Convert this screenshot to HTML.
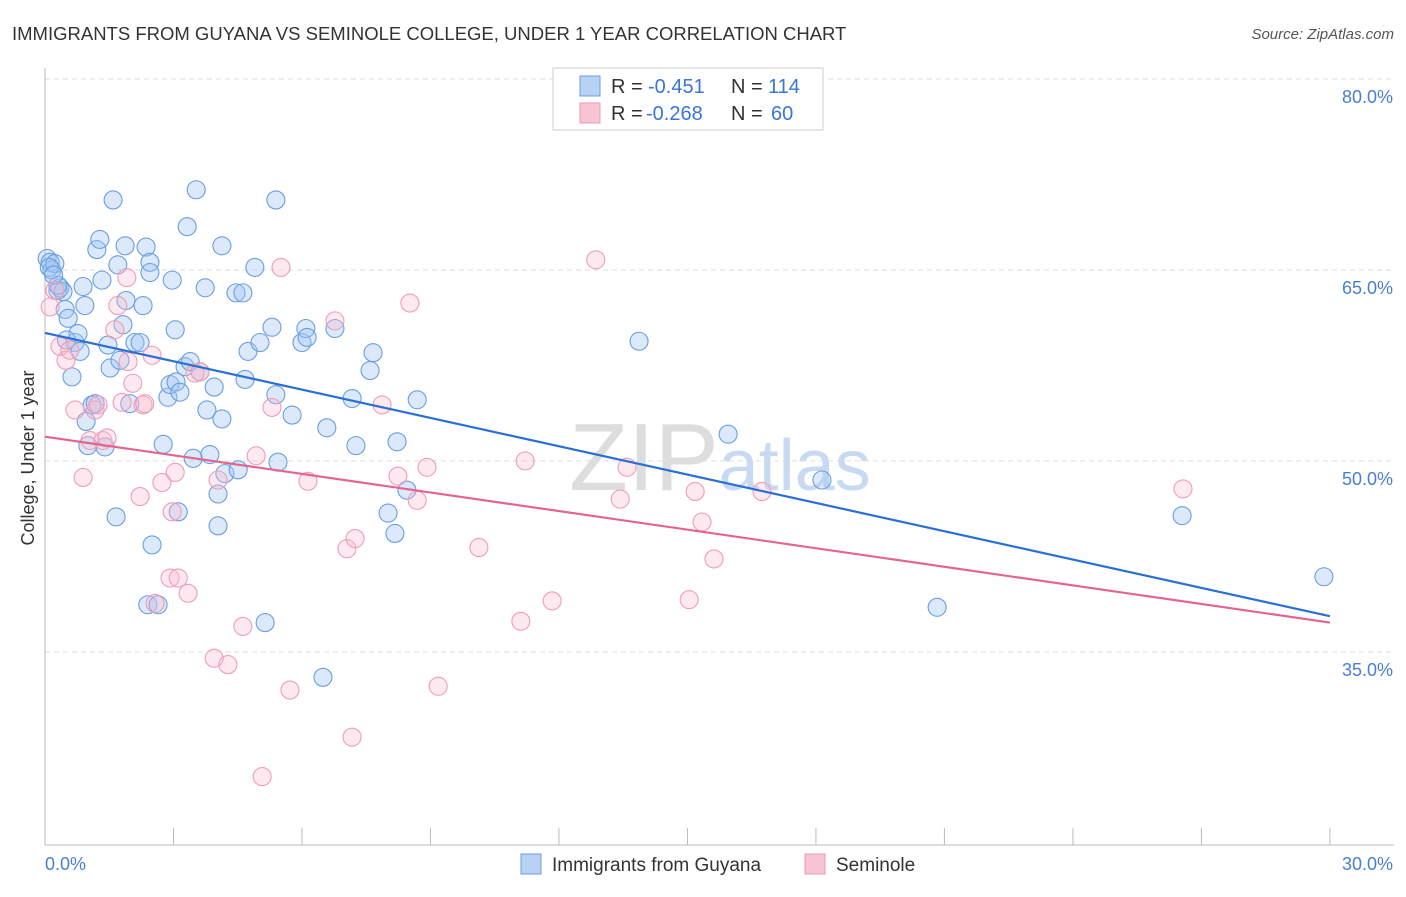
<!DOCTYPE html>
<html><head><meta charset="utf-8"><style>
body{margin:0;background:#fff;font-family:"Liberation Sans",sans-serif}
svg text{font-family:"Liberation Sans",sans-serif}
</style></head><body>
<svg id="c" width="1406" height="892">
<text x="12" y="40" font-size="18.5" fill="#333">IMMIGRANTS FROM GUYANA VS SEMINOLE COLLEGE, UNDER 1 YEAR CORRELATION CHART</text>
<text x="1394" y="39" font-size="15" fill="#555" text-anchor="end" font-style="italic">Source: ZipAtlas.com</text>
<text x="720" y="490" font-size="96" fill="#ddd" text-anchor="middle" font-family="Liberation Serif">ZIP<tspan fill="#c8daf2" font-family="Liberation Sans" font-size="72">atlas</tspan></text>
<g id="grid"></g><g id="axes"></g><g id="pts"></g><g id="lines"></g>
<text transform="translate(34,458) rotate(-90)" font-size="18" fill="#333" text-anchor="middle">College, Under 1 year</text>
<g>
<rect x="553" y="68" width="270" height="62" fill="#fff" stroke="#ccc"/>
<rect x="580" y="76" width="20" height="20" fill="#b8d2f4" stroke="#6d9fe0"/>
<rect x="580" y="103" width="20" height="20" fill="#f9c4d3" stroke="#ec98b2"/>
<text x="611" y="93" font-size="20" fill="#333">R =</text>
<text x="648" y="93" font-size="20" fill="#3a75d6">-0.451</text>
<text x="731" y="93" font-size="20" fill="#333">N =</text>
<text x="768" y="93" font-size="20" fill="#3a75d6">114</text>
<text x="611" y="120" font-size="20" fill="#333">R =</text>
<text x="646" y="120" font-size="20" fill="#3a75d6">-0.268</text>
<text x="731" y="120" font-size="20" fill="#333">N =</text>
<text x="771" y="120" font-size="20" fill="#3a75d6">60</text>
</g>
<g>
<rect x="521" y="854" width="20" height="20" fill="#b8d2f4" stroke="#6d9fe0"/>
<text x="552" y="871" font-size="19" fill="#333">Immigrants from Guyana</text>
<rect x="805" y="854" width="20" height="20" fill="#f9c4d3" stroke="#ec98b2"/>
<text x="836" y="871" font-size="19" fill="#333">Seminole</text>
</g>
</svg>
<script>
const yTicks=[80,65,50,35];
const yTickLabels=["80.0%","65.0%","50.0%","35.0%"];
const xTickLabels=["0.0%","30.0%"];
const blueX=[.05,.12,.16,.23,.30,.35,.42,.47,.54,.63,.70,.77,.82,.89,.93,.96,1.00,1.10,1.17,1.21,1.28,1.33,1.40,1.47,1.52,1.59,1.66,1.70,1.75,1.82,1.89,1.87,1.98,2.10,2.22,2.29,2.36,2.40,2.45,2.45,2.50,2.64,2.76,2.87,2.92,2.97,3.04,3.11,3.06,3.15,3.27,3.32,3.39,3.46,3.53,3.62,3.74,3.78,3.85,3.95,4.04,4.13,4.04,4.13,4.20,4.51,4.46,4.62,4.67,4.74,4.90,5.02,5.14,5.30,5.39,5.39,5.44,5.77,6.00,6.09,6.12,6.49,6.58,6.77,7.17,7.26,7.59,7.66,8.01,8.17,8.22,8.45,8.69,13.87,15.95,18.14,20.83,26.55,29.86,.1,.3,.5,.2];
const blueY=[65.9,65.6,65.0,65.5,63.4,63.6,63.3,61.9,61.2,56.6,59.3,60.0,58.6,63.7,62.2,53.1,51.2,54.4,54.5,66.6,67.4,64.2,51.1,59.1,57.3,70.5,45.6,65.4,57.9,60.7,62.6,66.9,54.5,59.3,59.3,62.2,66.8,38.7,65.6,64.8,43.4,38.7,51.3,55.0,56.0,64.2,60.3,46.0,56.2,55.4,57.4,68.4,57.8,50.2,71.3,57.0,63.6,54.0,50.5,55.8,47.4,53.3,44.9,66.9,49.0,49.3,63.2,63.2,56.4,58.6,65.2,59.3,37.3,60.5,70.5,55.2,49.9,53.6,59.3,60.4,59.7,33.0,52.6,60.4,54.9,51.2,57.1,58.5,45.9,44.3,51.5,47.7,54.8,59.4,52.1,48.5,38.5,45.7,40.9,65.2,63.8,59.5,64.6];
const pinkX=[.12,.23,.35,.49,.58,.70,.89,1.05,1.17,1.24,1.35,1.45,1.63,1.70,1.80,1.91,1.94,2.05,2.22,2.29,2.33,2.50,2.57,2.73,2.92,2.97,3.04,3.11,3.34,3.50,3.62,3.95,4.04,4.27,4.62,4.93,5.07,5.30,5.51,5.72,6.14,6.77,7.05,7.17,7.24,7.87,8.24,8.52,8.69,8.92,9.18,10.13,11.11,11.21,11.84,12.86,13.43,13.59,15.04,15.18,15.34,15.62,16.74,26.57];
const pinkY=[62.1,63.4,59.0,57.9,58.7,54.0,48.7,51.6,54.0,54.4,51.6,51.8,60.3,62.2,54.6,64.4,57.8,56.1,47.2,54.4,54.5,58.3,38.8,48.3,40.8,46.0,49.1,40.8,39.6,56.9,57.0,34.5,48.5,34.0,37.0,50.4,25.2,54.2,65.2,32.0,48.4,61.0,43.1,28.3,43.9,54.4,48.8,62.4,46.9,49.5,32.3,43.2,37.4,50.0,39.0,65.8,47.0,49.5,39.1,47.6,45.2,42.3,47.6,47.8];
const blueTrend=[60.05,37.8];
const pinkTrend=[51.9,37.3];
const X=v=>45+v*42.83, Y=v=>79+(80-v)*12.73;
const NS="http://www.w3.org/2000/svg";
function mk(t,a,p){const e=document.createElementNS(NS,t);for(const k in a)e.setAttribute(k,a[k]);p.appendChild(e);return e;}
const grid=document.getElementById('grid'),axes=document.getElementById('axes'),pts=document.getElementById('pts'),lines=document.getElementById('lines');
yTicks.forEach((v,i)=>{
 const g=mk('line',{x1:45,x2:1394,y1:Y(v),y2:Y(v),stroke:'#ddd','stroke-dasharray':'5,4'},grid);
 
 
 const t=mk('text',{x:1393,y:Y(v)+24,'font-size':18,fill:'#4a7fd0','text-anchor':'end'},axes);t.textContent=yTickLabels[i];
 
 
});
const ax=mk('line',{x1:45,x2:45,y1:68,y2:845,stroke:'#bbb'},axes);


const bx=mk('line',{x1:45,x2:1394,y1:845,y2:845,stroke:'#bbb'},axes);


for(let i=0;i<=10;i++){const t=mk('line',{x1:X(i*3),x2:X(i*3),y1:828,y2:845,stroke:'#bbb'},axes);
 
 }
[[0,'start'],[30,'end']].forEach(([v,a],i)=>{const t=mk('text',{x:i?1393:45,y:870,'font-size':18,fill:'#4a7fd0','text-anchor':a},axes);t.textContent=xTickLabels[i];
 
 });
blueX.forEach((v,i)=>{const c=mk('circle',{cx:X(v),cy:Y(blueY[i]),r:9,fill:'rgba(160,198,242,0.38)',stroke:'#6a9ee0','stroke-width':1.1},pts);
 
 });
pinkX.forEach((v,i)=>{const c=mk('circle',{cx:X(v),cy:Y(pinkY[i]),r:9,fill:'rgba(248,186,206,0.32)',stroke:'#ee9db6','stroke-width':1.1},pts);
 
 });
const bl=mk('line',{x1:X(0),y1:Y(blueTrend[0]),x2:X(30),y2:Y(blueTrend[1]),stroke:'#2a6fd6','stroke-width':2.2},lines);


const pl=mk('line',{x1:X(0),y1:Y(pinkTrend[0]),x2:X(30),y2:Y(pinkTrend[1]),stroke:'#e4648f','stroke-width':2.2},lines);


</script>
</body></html>
